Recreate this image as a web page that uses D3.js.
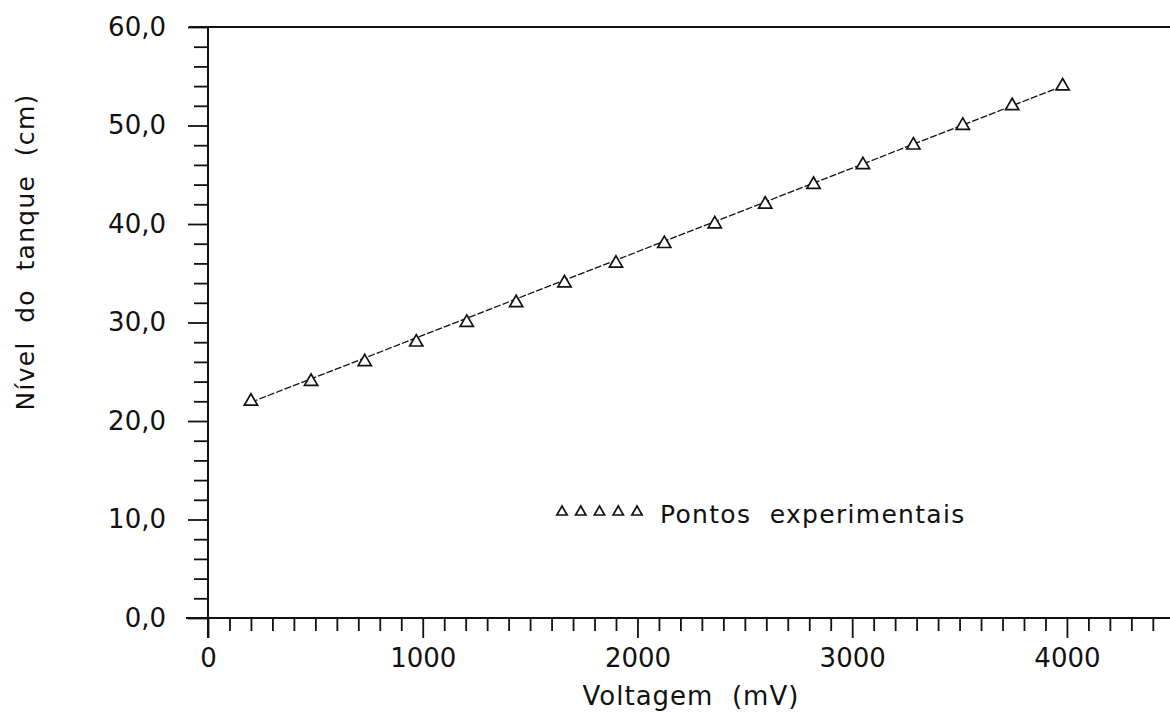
<!DOCTYPE html>
<html>
<head>
<meta charset="utf-8">
<script src="https://cdn.jsdelivr.net/npm/d3@7/dist/d3.min.js"></script>
<style>
  html, body { margin: 0; padding: 0; background: #fff; }
  svg text { font-family: "DejaVu Sans", sans-serif; fill: #111; white-space: pre; }
</style>
</head>
<body>
<svg id="chart" width="1170" height="715"></svg>
<script>
// ---- data ----
const voltage = [200, 480, 730, 970, 1205, 1435, 1660, 1900, 2125, 2360, 2595, 2820, 3050, 3285, 3515, 3745, 3980];
const level   = [22, 24, 26, 28, 30, 32, 34, 36, 38, 40, 42, 44, 46, 48, 50, 52, 54];
const fitVoltage = [200, 3980];
const fitLevel   = [21.9, 54.0];
const xMajorTicks = [0, 1000, 2000, 3000, 4000];
const yMajorTicks = [0, 10, 20, 30, 40, 50, 60];
const xTitle = "Voltagem  (mV)";
const yTitle = "Nível  do  tanque  (cm)";
const legendLabel = "Pontos  experimentais";

(function () {
// ---- layout ----
const svg = d3.select("#chart");
const pLeft = 208, pRight = 1170, pTop = 27, pBottom = 618;
const x = d3.scaleLinear().domain([0, 4480]).range([pLeft, pRight]);
const y = d3.scaleLinear().domain([0, 60]).range([pBottom, pTop]);

const locale = d3.formatLocale({decimal: ",", thousands: ".", grouping: [3], currency: ["", ""]});
const yFmt = locale.format(".1f");

// top border
svg.append("line").attr("x1", 189).attr("x2", pRight).attr("y1", y(60)).attr("y2", y(60))
  .attr("stroke", "#111").attr("stroke-width", 2);

// X minor ticks
const xMinor = d3.range(0, 4401, 100).filter(v => v % 1000 !== 0);
svg.append("g").attr("transform", `translate(0,${pBottom})`)
  .call(d3.axisBottom(x).tickValues(xMinor).tickSize(13).tickFormat(""))
  .call(g => g.select(".domain").remove())
  .call(g => g.selectAll("line").attr("stroke", "#111").attr("stroke-width", 1.8));

// X major ticks + labels
svg.append("g").attr("transform", `translate(0,${pBottom})`)
  .call(d3.axisBottom(x).tickValues(xMajorTicks).tickSize(20).tickPadding(11).tickFormat(d3.format("d")))
  .call(g => g.select(".domain").remove())
  .call(g => g.selectAll("line").attr("stroke", "#111").attr("stroke-width", 1.8))
  .call(g => g.selectAll("text").attr("font-size", 26).attr("fill", "#111"));

// x axis line
svg.append("line").attr("x1", 186).attr("x2", pRight).attr("y1", pBottom).attr("y2", pBottom)
  .attr("stroke", "#111").attr("stroke-width", 2);

// Y minor ticks
const yMinor = d3.range(2, 60, 2).filter(v => v % 10 !== 0);
svg.append("g").attr("transform", `translate(${pLeft},0)`)
  .call(d3.axisLeft(y).tickValues(yMinor).tickSize(14).tickFormat(""))
  .call(g => g.select(".domain").remove())
  .call(g => g.selectAll("line").attr("stroke", "#111").attr("stroke-width", 1.8));

// Y major ticks + labels
svg.append("g").attr("transform", `translate(${pLeft},0)`)
  .call(d3.axisLeft(y).tickValues(yMajorTicks).tickSize(20).tickPadding(22).tickFormat(yFmt))
  .call(g => g.select(".domain").remove())
  .call(g => g.selectAll("line").attr("stroke", "#111").attr("stroke-width", 1.8))
  .call(g => g.selectAll("text").attr("font-size", 26).attr("fill", "#111"));

// y axis line
svg.append("line").attr("x1", pLeft).attr("x2", pLeft).attr("y1", pTop).attr("y2", 638)
  .attr("stroke", "#111").attr("stroke-width", 2);

// fit line
const fitData = fitVoltage.map((v, i) => [v, fitLevel[i]]);
svg.append("path").datum(fitData)
  .attr("d", d3.line().x(d => x(d[0])).y(d => y(d[1])))
  .attr("fill", "none").attr("stroke", "#111").attr("stroke-width", 1.3)
  .attr("stroke-dasharray", "7,2");

// points
const tri = d3.symbol().type(d3.symbolTriangle).size(75);
svg.append("g").selectAll("path").data(voltage.map((v, i) => [v, level[i]])).join("path")
  .attr("d", tri)
  .attr("transform", d => `translate(${x(d[0])},${y(d[1])})`)
  .attr("fill", "#fff").attr("stroke", "#111").attr("stroke-width", 1.7);

// legend
const legTri = d3.symbol().type(d3.symbolTriangle).size(46);
svg.append("g").selectAll("path").data(d3.range(5)).join("path")
  .attr("d", legTri)
  .attr("transform", i => `translate(${562 + i * 18.75},512)`)
  .attr("fill", "#fff").attr("stroke", "#111").attr("stroke-width", 1.7);
svg.append("text").attr("x", 660).attr("y", 523).attr("font-size", 25)
  .attr("letter-spacing", 1.3).text(legendLabel);

// axis titles
svg.append("text").attr("x", 691).attr("y", 705).attr("text-anchor", "middle")
  .attr("font-size", 26).attr("letter-spacing", 1).text(xTitle);
svg.append("text").attr("transform", "translate(34,252) rotate(-90)").attr("text-anchor", "middle")
  .attr("font-size", 25).attr("letter-spacing", 1.3).text(yTitle);
})();
</script>
</body>
</html>
